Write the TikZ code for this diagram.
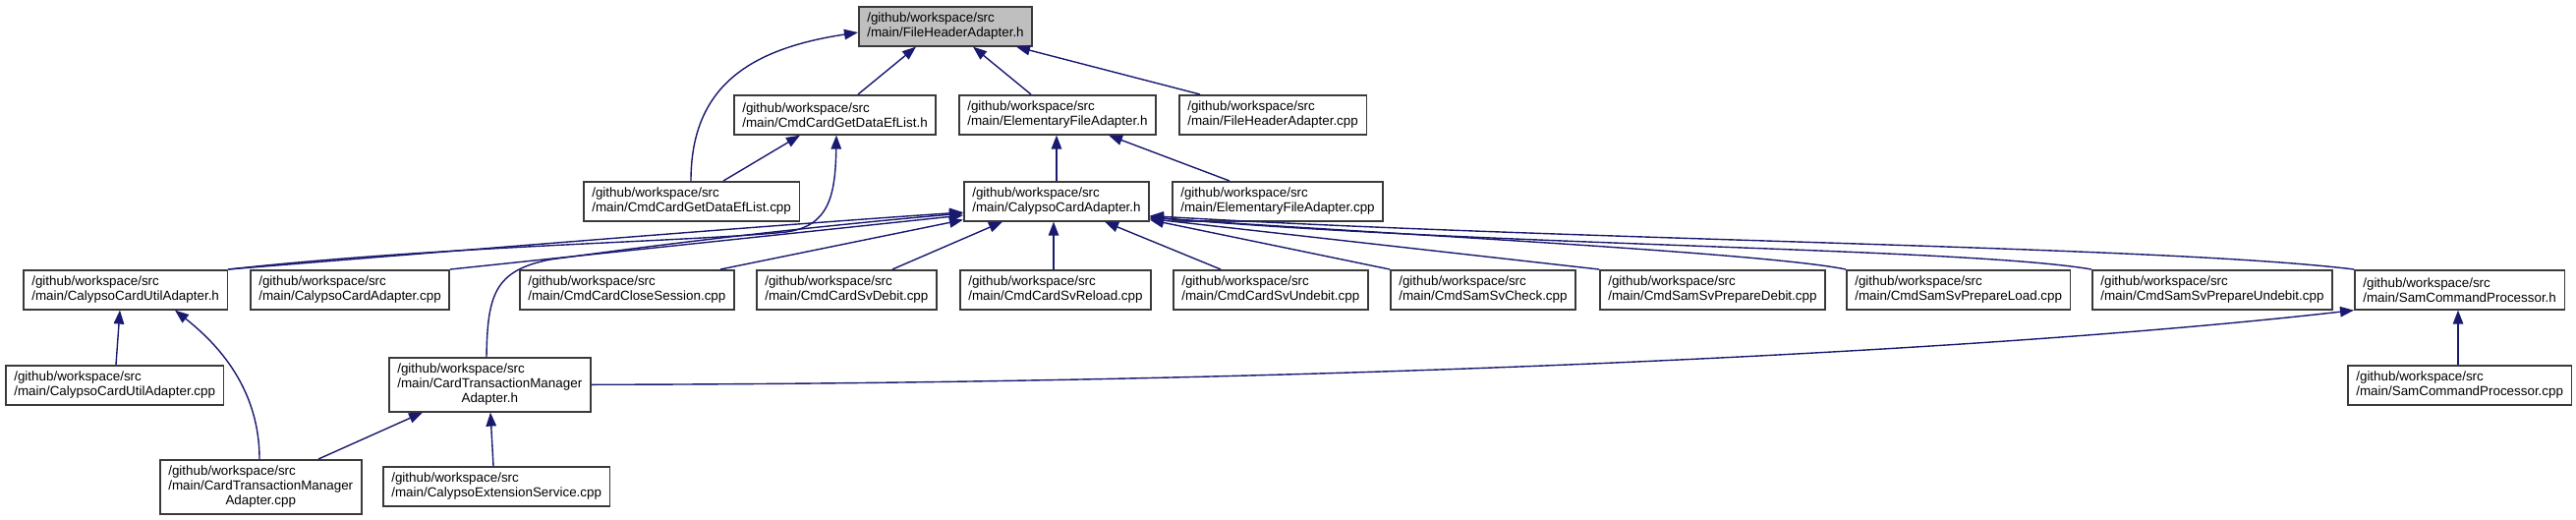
\documentclass[tikz,border=0pt]{standalone}
\usepackage{fontspec}
\setmainfont{Liberation Sans}
\usetikzlibrary{arrows.meta,calc}
\definecolor{navyc}{HTML}{191970}
\definecolor{grayc}{HTML}{BFBFBF}
\definecolor{borderc}{HTML}{3A3A3A}
\tikzset{
  boxbase/.style={draw=borderc, line width=1.6pt, rectangle, anchor=north west,
    inner xsep=8.5pt, inner ysep=0pt, minimum height=40pt, fill=white,
    font=\fontsize{13.4}{15}\selectfont},
  box/.style={boxbase, align=left},
  box3/.style={boxbase, minimum height=55pt},
  edge/.style={draw=navyc, line width=1.4pt, -{Triangle[length=14pt,width=10.5pt]}},
}
\begin{document}
\begin{tikzpicture}[x=1pt,y=-1pt]
\useasboundingbox (0,0) rectangle (2621,528);
% row 0
\node[box, fill=grayc] (fh) at (873,6) {/github/workspace/src\\/main/FileHeaderAdapter.h};
% row 1
\node[box] (cgh) at (746,96) {/github/workspace/src\\/main/CmdCardGetDataEfList.h};
\node[box] (efh) at (975,96) {/github/workspace/src\\/main/ElementaryFileAdapter.h};
\node[box] (fhc) at (1199,96) {/github/workspace/src\\/main/FileHeaderAdapter.cpp};
% row 2
\node[box] (cgc) at (593,184) {/github/workspace/src\\/main/CmdCardGetDataEfList.cpp};
\node[box] (cah) at (980,184) {/github/workspace/src\\/main/CalypsoCardAdapter.h};
\node[box] (efc) at (1192,184) {/github/workspace/src\\/main/ElementaryFileAdapter.cpp};
% row 3
\node[box] (cuh) at (23,274) {/github/workspace/src\\/main/CalypsoCardUtilAdapter.h};
\node[box] (cac) at (254,274) {/github/workspace/src\\/main/CalypsoCardAdapter.cpp};
\node[box] (ccs) at (528,274) {/github/workspace/src\\/main/CmdCardCloseSession.cpp};
\node[box] (csd) at (769,274) {/github/workspace/src\\/main/CmdCardSvDebit.cpp};
\node[box] (csr) at (976,274) {/github/workspace/src\\/main/CmdCardSvReload.cpp};
\node[box] (csu) at (1193,274) {/github/workspace/src\\/main/CmdCardSvUndebit.cpp};
\node[box] (ssc) at (1414,274) {/github/workspace/src\\/main/CmdSamSvCheck.cpp};
\node[box] (spd) at (1627,274) {/github/workspace/src\\/main/CmdSamSvPrepareDebit.cpp};
\node[box] (spl) at (1878,274) {/github/workspace/src\\/main/CmdSamSvPrepareLoad.cpp};
\node[box] (spu) at (2128,274) {/github/workspace/src\\/main/CmdSamSvPrepareUndebit.cpp};
\node[box] (sph) at (2395,274) {/github/workspace/src\\/main/SamCommandProcessor.h};
% row 4
\node[box] (cuc) at (5,371) {/github/workspace/src\\/main/CalypsoCardUtilAdapter.cpp};
\node[box3] (tmh) at (395,363) {\begin{tabular}{@{}l@{}}/github/workspace/src\\/main/CardTransactionManager\\\multicolumn{1}{@{}c@{}}{Adapter.h}\end{tabular}};
\node[box] (spc) at (2388,371) {/github/workspace/src\\/main/SamCommandProcessor.cpp};
% row 5
\node[box3] (tmc) at (162,467) {\begin{tabular}{@{}l@{}}/github/workspace/src\\/main/CardTransactionManager\\\multicolumn{1}{@{}c@{}}{Adapter.cpp}\end{tabular}};
\node[box] (ces) at (389,474) {/github/workspace/src\\/main/CalypsoExtensionService.cpp};
% edges
\draw[edge] ($(cgh.north west)+(127,0)$) -- ($(fh.south west)+(59,0)$);
\draw[edge] ($(efh.north west)+(74,0)$) -- ($(fh.south west)+(117,0)$);
\draw[edge] ($(fhc.north west)+(22,0)$) -- ($(fh.south west)+(161,0)$);
\draw[edge] ($(cgc.north west)+(110,0)$) .. controls (703,90) and (760,50) .. ($(fh.north west)+(0,27)$);
\draw[edge] ($(cgc.north west)+(143,0)$) -- ($(cgh.south west)+(68,0)$);
\draw[edge] ($(cah.north west)+(95,0)$) -- ($(efh.south west)+(100,0)$);
\draw[edge] ($(efc.north west)+(59,0)$) -- ($(efh.south west)+(153,0)$);
\draw[edge] (cuh.north east) .. controls (450,250) and (700,246) .. (800,236) .. controls (843,230) and (850,200) .. ($(cgh.south west)+(105,0)$);
\draw[edge] (cuh.north east) .. controls (500,252) and (800,228) .. ($(cah.north west)+(0,32)$);
\draw[edge] (cac.north east) -- ($(cah.north west)+(0,35)$);
\draw[edge] ($(ccs.north west)+(205,0)$) -- ($(cah.south west)+(0,-2)$);
\draw[edge] ($(csd.north west)+(139,0)$) -- ($(cah.south west)+(40,0)$);
\draw[edge] ($(csr.north west)+(96,0)$) -- ($(cah.south west)+(92,0)$);
\draw[edge] ($(csu.north west)+(49,0)$) -- ($(cah.south west)+(144,0)$);
\draw[edge] (ssc.north west) -- ($(cah.south east)+(0,-2)$);
\draw[edge] (spd.north west) -- ($(cah.south east)+(0,-3)$);
\draw[edge] (spl.north west) .. controls (1800,258) and (1450,240) .. ($(cah.south east)+(0,-4)$);
\draw[edge] (spu.north west) .. controls (2000,252) and (1500,250) .. ($(cah.south east)+(0,-5)$);
\draw[edge] (sph.north west) .. controls (2200,250) and (1600,245) .. ($(cah.south east)+(0,-6)$);
\draw[edge] ($(tmh.north west)+(100,0)$) .. controls (496,300) and (503,275) .. (560,264) .. controls (750,238) and (900,224) .. ($(cah.north west)+(0,33)$);
\draw[edge] ($(cuc.north west)+(113,0)$) -- ($(cuh.south west)+(99,0)$);
\draw[edge] ($(tmc.north west)+(102,0)$) .. controls (264,390) and (215,345) .. ($(cuh.south west)+(155,0)$);
\draw[edge] (tmh.east) .. controls (1400,390) and (2050,355) .. (sph.south west);
\draw[edge] ($(tmc.north west)+(162,0)$) -- ($(tmh.south west)+(35,0)$);
\draw[edge] ($(ces.north west)+(113,0)$) -- ($(tmh.south west)+(104,0)$);
\draw[edge] ($(spc.north west)+(113,0)$) -- ($(sph.south west)+(106,0)$);
\end{tikzpicture}
\end{document}
